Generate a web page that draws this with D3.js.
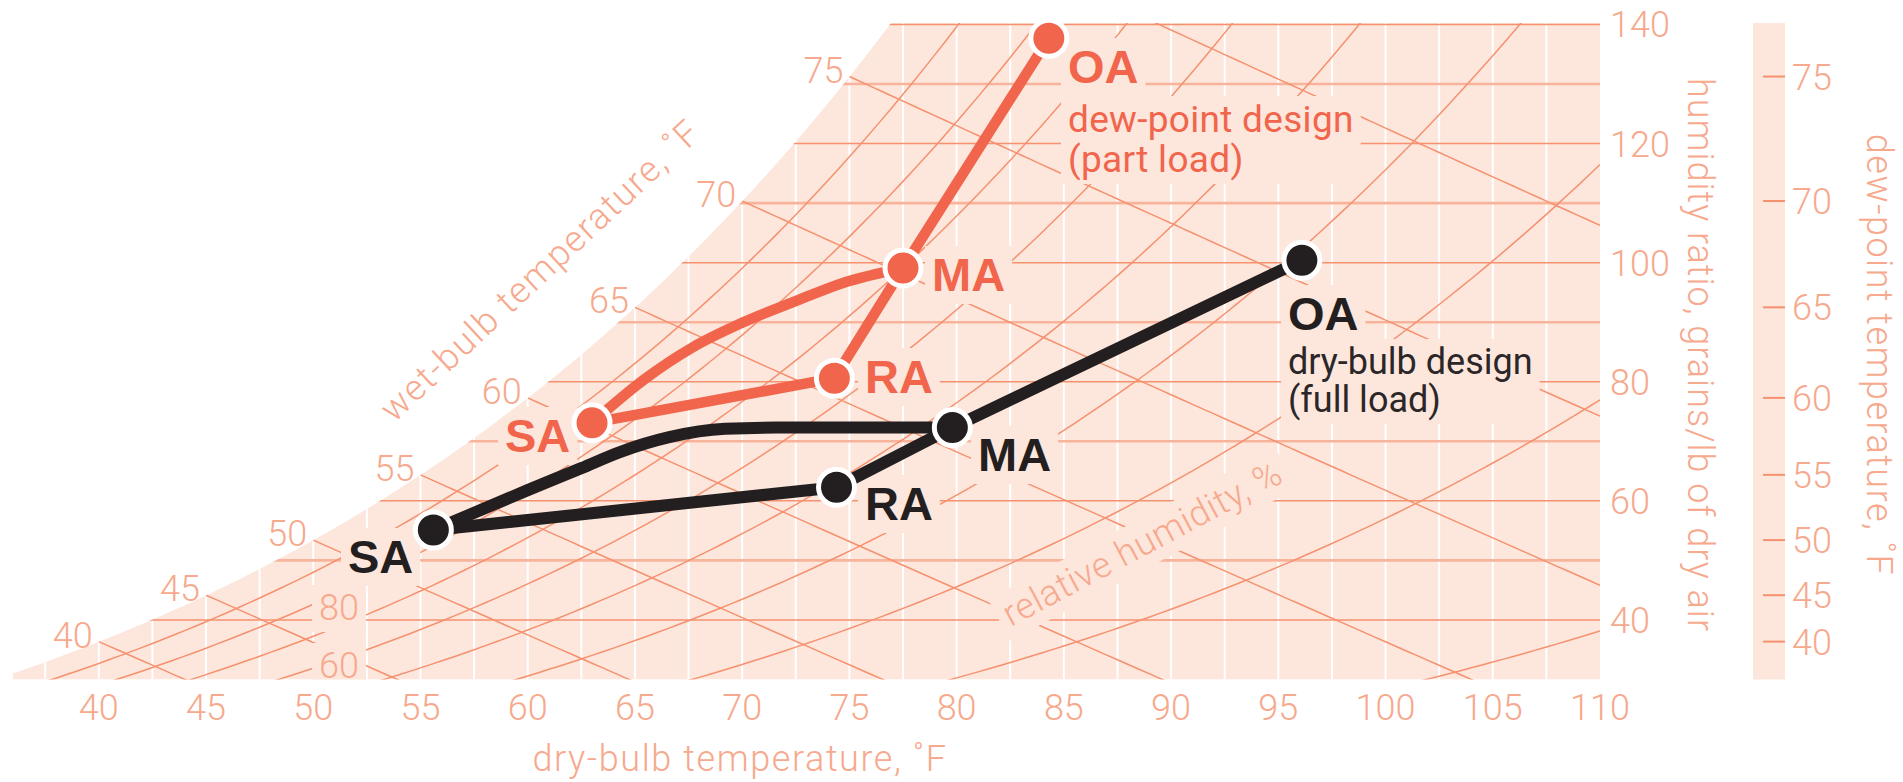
<!DOCTYPE html>
<html>
<head>
<meta charset="utf-8">
<script src="https://cdn.jsdelivr.net/npm/d3@7"></script>
<style>
  body { margin: 0; background: #fff; }
  svg { display: block; }
</style>
</head>
<body>
<svg></svg>
<script>
// ---- chart values ----
const dryBulbTicks = [40, 45, 50, 55, 60, 65, 70, 75, 80, 85, 90, 95, 100, 105, 110];
const humidityTicks = [40, 60, 80, 100, 120, 140];          // grains/lb
const humidityGrid = [40, 50, 60, 70, 80, 90, 100, 110, 120, 130, 140];
const dewPointTicks = [40, 45, 50, 55, 60, 65, 70, 75];
const wetBulbLevels = [40, 45, 50, 55, 60, 65, 70, 75, 80];
const wetBulbLabels = [40, 45, 50, 55, 60, 65, 70, 75];
const rhLevels = [10, 20, 30, 40, 50, 60, 70, 80, 90];
const rhLabels = [80, 60];

const pointNames = ['OA', 'MA', 'RA', 'SA'];
// full load (dry-bulb design), black
const fullT = [96.1, 79.8, 74.4, 55.6];
const fullW = [100.4, 72.3, 62.3, 55.1];
const fullCoilT = [60.0, 62.5, 64.3, 66.6, 69.2, 71.6];
const fullCoilW = [61.8, 65.5, 68.2, 70.7, 72.1, 72.3];
// part load (dew-point design), orange
const partT = [84.3, 77.5, 74.3, 63.0];
const partW = [137.7, 99.1, 80.6, 73.1];
const partCoilT = [65.4, 67.7, 70.0, 72.4, 74.7];
const partCoilW = [80.3, 85.8, 89.9, 93.4, 96.6];

// ---- colours ----
const BG = '#fde6dc';
const GRID = '#f5916f';
const GRID_SOFT = '#f8b49b';
const LABEL = '#f6a98d';
const ORANGE = '#f0654b';
const BLACK = '#231f20';
const lightFont = "Roboto, 'Liberation Sans', sans-serif";
const boldFont = "'Liberation Sans', Arial, sans-serif";

// ---- psychrometrics (IP units, sea level) ----
const PATM = 14.696;
function psat(tF) {
  const T = tF + 459.67;
  return Math.exp(-1.0440397e4 / T - 11.29465 - 2.7022355e-2 * T + 1.289036e-5 * T * T
    - 2.4780681e-9 * T * T * T + 6.5459673 * Math.log(T));
}
const grains = pv => 7000 * 0.622 * pv / (PATM - pv);
const satGrains = t => grains(psat(t));
const rhGrains = (t, rh) => grains(rh / 100 * psat(t));
const wbGrains = (t, twb) => {
  const ws = satGrains(twb) / 7000;
  return 7000 * ((1093 - 0.556 * twb) * ws - 0.240 * (t - twb)) / (1093 + 0.444 * t - twb);
};

const svg = d3.select('svg').attr('width', 1903).attr('height', 782);

const x = d3.scaleLinear().domain([36, 110]).range([13, 1600]);
const y = d3.scaleLinear().domain([30, 140]).range([679.5, 24.5]);
const yBottom = y(30), yTopPx = 23;
const wTop = y.invert(yTopPx);

let tTop = 36;
while (satGrains(tTop) < wTop) tTop += 0.01;

const satPts = d3.range(36, tTop, 0.25).map(t => [x(t), Math.min(y(satGrains(t)), yBottom)]);
const region = [[x(36), yBottom], ...satPts, [x(tTop), yTopPx], [x(110), yTopPx], [x(110), yBottom]];
const regionPath = d3.line()(region) + 'Z';

svg.append('defs').append('clipPath').attr('id', 'psy')
  .append('path').attr('d', regionPath);

const plot = svg.append('g').attr('clip-path', 'url(#psy)');
plot.append('path').attr('d', regionPath).attr('fill', BG);

// vertical white dry-bulb grid
plot.append('g').selectAll('line').data(d3.range(37.5, 110, 2.5)).join('line')
  .attr('x1', d => x(d)).attr('x2', d => x(d))
  .attr('y1', yTopPx).attr('y2', yBottom)
  .attr('stroke', '#fff').attr('stroke-width', 2);

// horizontal humidity-ratio lines
plot.append('g').selectAll('line').data(humidityGrid).join('line')
  .attr('x1', x(36)).attr('x2', x(110))
  .attr('y1', d => y(d)).attr('y2', d => y(d))
  .attr('stroke', d => d % 20 ? GRID_SOFT : GRID)
  .attr('stroke-width', d => d % 20 ? 2.6 : 1.5);

const curve = d3.line().x(d => x(d[0])).y(d => y(d[1]));

// wet-bulb lines
plot.append('g').selectAll('path').data(wetBulbLevels).join('path')
  .attr('d', twb => curve(d3.range(twb, 110.01, 0.5).map(t => [t, wbGrains(t, twb)])))
  .attr('fill', 'none').attr('stroke', GRID).attr('stroke-width', 1.5);

// relative humidity curves
plot.append('g').selectAll('path').data(rhLevels).join('path')
  .attr('d', rh => curve(d3.range(30, 110.01, 0.5).map(t => [t, rhGrains(t, rh)])))
  .attr('fill', 'none').attr('stroke', GRID).attr('stroke-width', 1.5);

// ---- labels inside the chart (with background knockouts) ----
const koLayer = plot.append('g');
const lineLayer = svg.append('g');
const textLayer = svg.append('g');

const insideLabels = [
  { text: [rhLabels[0]], x: 339, y: 620, anchor: 'middle', font: lightFont, size: 36, weight: 300, fill: LABEL },
  { text: [rhLabels[1]], x: 339, y: 678, anchor: 'middle', font: lightFont, size: 36, weight: 300, fill: LABEL },
  { text: ['relative humidity, %'], x: 1142, y: 543, anchor: 'middle', font: lightFont, size: 36, weight: 300, fill: LABEL, rotate: -28, center: true, ls: 0.6 },
  { text: ['OA'], x: 1288, y: 330, font: boldFont, size: 47, weight: 700, fill: BLACK },
  { text: ['dry-bulb design', '(full load)'], x: 1288, y: 374, lh: 38, font: lightFont, size: 36, weight: 400, fill: '#2b2728' },
  { text: ['MA'], x: 978, y: 471, font: boldFont, size: 47, weight: 700, fill: BLACK },
  { text: ['RA'], x: 865, y: 520, font: boldFont, size: 47, weight: 700, fill: BLACK },
  { text: ['SA'], x: 348, y: 573, font: boldFont, size: 47, weight: 700, fill: BLACK },
  { text: ['OA'], x: 1068, y: 83, font: boldFont, size: 47, weight: 700, fill: ORANGE },
  { text: ['dew-point design', '(part load)'], x: 1068, y: 132, lh: 40, font: lightFont, size: 37, weight: 400, fill: ORANGE, ls: 0.3 },
  { text: ['MA'], x: 932, y: 291, font: boldFont, size: 47, weight: 700, fill: ORANGE },
  { text: ['RA'], x: 865, y: 393, font: boldFont, size: 47, weight: 700, fill: ORANGE },
  { text: ['SA'], x: 505, y: 452, font: boldFont, size: 47, weight: 700, fill: ORANGE }
];

// ---- process lines ----
function drawProcess(T, W, coilT, coilW, color, width) {
  const px = (t, w) => [x(t), y(w)];
  const main = T.map((t, i) => px(t, W[i]));
  lineLayer.append('path').attr('d', d3.line()(main))
    .attr('fill', 'none').attr('stroke', color).attr('stroke-width', width)
    .attr('stroke-linejoin', 'round').attr('stroke-linecap', 'round');
  const coil = [px(T[3], W[3])]
    .concat(coilT.map((t, i) => px(t, coilW[i])))
    .concat([px(T[1], W[1])]);
  lineLayer.append('path').attr('d', d3.line().curve(d3.curveMonotoneX)(coil))
    .attr('fill', 'none').attr('stroke', color).attr('stroke-width', width)
    .attr('stroke-linecap', 'round');
  lineLayer.append('g').selectAll('circle').data(main).join('circle')
    .attr('cx', d => d[0]).attr('cy', d => d[1]).attr('r', 18)
    .attr('fill', color).attr('stroke', '#fff').attr('stroke-width', 5);
}
drawProcess(fullT, fullW, fullCoilT, fullCoilW, BLACK, 12);
drawProcess(partT, partW, partCoilT, partCoilW, ORANGE, 10.5);

// text on top, a plain background box underneath hides the grid
insideLabels.forEach(d => {
  const tf = `translate(${d.x},${d.y})` + (d.rotate ? ` rotate(${d.rotate})` : '');
  const t = textLayer.append('text')
    .attr('transform', tf)
    .attr('text-anchor', d.anchor || 'start')
    .attr('dy', d.center ? '0.35em' : null)
    .attr('letter-spacing', d.ls || null)
    .attr('font-family', d.font).attr('font-size', d.size).attr('font-weight', d.weight)
    .attr('fill', d.fill);
  d.text.forEach((line, i) => {
    t.append('tspan').attr('x', 0).attr('y', i * (d.lh || 0)).text(line);
  });
  const b = t.node().getBBox();
  const pad = 7;
  koLayer.append('rect').attr('transform', tf)
    .attr('x', b.x - pad).attr('y', b.y + 5 - pad)
    .attr('width', b.width + 2 * pad).attr('height', b.height - 9 + 2 * pad)
    .attr('fill', BG);
});

// ---- axes and outside labels ----
const axisText = (g) => g.attr('font-family', lightFont).attr('font-weight', 300).attr('fill', LABEL);

// dry-bulb axis
const xAxis = svg.append('g').call(axisText).attr('font-size', 36);
xAxis.selectAll('text').data(dryBulbTicks).join('text')
  .attr('x', d => x(d)).attr('y', 720).attr('text-anchor', 'middle').text(d => d);
svg.append('text').call(axisText).attr('font-size', 36).attr('letter-spacing', 1.6)
  .attr('x', 740).attr('y', 771).attr('text-anchor', 'middle')
  .text('dry-bulb temperature, ˚F');

// wet-bulb labels along saturation curve
svg.append('g').call(axisText).attr('font-size', 36)
  .selectAll('text').data(wetBulbLabels).join('text')
  .attr('x', d => x(d) - 6).attr('y', d => y(satGrains(d)) + 6)
  .attr('text-anchor', 'end').text(d => d);
svg.append('text').call(axisText).attr('font-size', 36).attr('letter-spacing', 1.6)
  .attr('transform', 'translate(540,270) rotate(-43)')
  .attr('text-anchor', 'middle').attr('dy', '0.35em')
  .text('wet-bulb temperature, ˚F');

// humidity ratio axis
svg.append('g').call(axisText).attr('font-size', 36)
  .selectAll('text').data(humidityTicks).join('text')
  .attr('x', 1610).attr('y', d => y(d)).attr('dy', '0.36em').text(d => d);
svg.append('text').call(axisText).attr('font-size', 36).attr('letter-spacing', 1.0)
  .attr('transform', 'translate(1701,355) rotate(90)')
  .attr('text-anchor', 'middle').attr('dy', '0.35em')
  .text('humidity ratio, grains/lb of dry air');

// dew-point scale
svg.append('rect').attr('x', 1753).attr('y', yTopPx).attr('width', 32)
  .attr('height', yBottom - yTopPx).attr('fill', BG);
svg.append('g').selectAll('line').data(dewPointTicks).join('line')
  .attr('x1', 1763).attr('x2', 1785)
  .attr('y1', d => y(satGrains(d))).attr('y2', d => y(satGrains(d)))
  .attr('stroke', GRID).attr('stroke-width', 2);
svg.append('g').call(axisText).attr('font-size', 36)
  .selectAll('text').data(dewPointTicks).join('text')
  .attr('x', 1792).attr('y', d => y(satGrains(d))).attr('dy', '0.36em').text(d => d);
svg.append('text').call(axisText).attr('font-size', 36).attr('letter-spacing', 1.5)
  .attr('transform', 'translate(1880,355) rotate(90)')
  .attr('text-anchor', 'middle').attr('dy', '0.35em')
  .text('dew-point temperature, ˚F');
</script>
</body>
</html>
